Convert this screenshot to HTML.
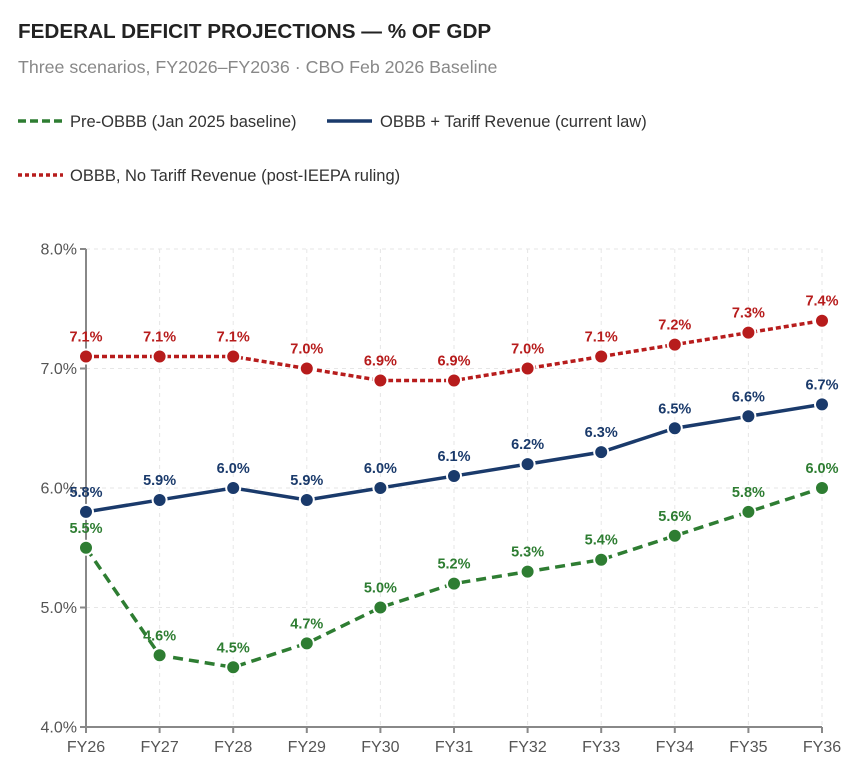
<!DOCTYPE html>
<html><head><meta charset="utf-8"><style>
body{margin:0;background:#fff;font-family:"Liberation Sans",Arial,sans-serif;}
#wrap{position:relative;width:865px;height:766px;}
</style></head><body>
<div id="wrap">
<svg id="chart" width="865" height="766" xmlns="http://www.w3.org/2000/svg">
<text x="18" y="38" font-size="20.7" font-weight="bold" fill="#222">FEDERAL DEFICIT PROJECTIONS — % OF GDP</text>
<text x="18" y="73" font-size="17.8" fill="#888">Three scenarios, FY2026–FY2036 · CBO Feb 2026 Baseline</text>
<g>
<line x1="18" y1="121" x2="63" y2="121" stroke="#2e7d32" stroke-width="3.5" stroke-dasharray="8,4"/>
<text x="70" y="127" font-size="16.5" fill="#333">Pre-OBBB (Jan 2025 baseline)</text></g>
<g>
<line x1="327" y1="121" x2="372" y2="121" stroke="#1a3a6b" stroke-width="3.5"/>
<text x="380" y="127" font-size="16.5" fill="#333">OBBB + Tariff Revenue (current law)</text></g>
<g>
<line x1="18" y1="175" x2="63" y2="175" stroke="#b71c1c" stroke-width="3.5" stroke-dasharray="4,3"/>
<text x="70" y="181" font-size="16.5" fill="#333">OBBB, No Tariff Revenue (post-IEEPA ruling)</text></g>
<g id="grid"></g><g id="axes"></g><g id="series"></g>
</svg></div>
<script>
const categories=["FY26","FY27","FY28","FY29","FY30","FY31","FY32","FY33","FY34","FY35","FY36"];
const preObbb=[5.5,4.6,4.5,4.7,5.0,5.2,5.3,5.4,5.6,5.8,6.0];
const obbbTariff=[5.8,5.9,6.0,5.9,6.0,6.1,6.2,6.3,6.5,6.6,6.7];
const obbbNoTariff=[7.1,7.1,7.1,7.0,6.9,6.9,7.0,7.1,7.2,7.3,7.4];
const yTicks=[4,5,6,7,8];
const yMin=4,yMax=8,plotTop=249,plotBottom=727,plotLeft=86,plotRight=822;
const NS="http://www.w3.org/2000/svg";
function xs(i){return plotLeft+(plotRight-plotLeft)*i/(categories.length-1);}
function ys(v){return plotBottom-(v-yMin)/(yMax-yMin)*(plotBottom-plotTop);}
function mk(tag,attrs,parent){const e=document.createElementNS(NS,tag);for(const k in attrs)e.setAttribute(k,attrs[k]);parent.appendChild(e);return e;}
const grid=document.getElementById('grid'),axes=document.getElementById('axes'),series=document.getElementById('series');
yTicks.forEach(t=>{
 const g=mk('line',{x1:plotLeft,x2:plotRight,y1:ys(t),y2:ys(t),stroke:'#e6e6e6','stroke-dasharray':'4,4'},grid);
 
 
 const tk=mk('line',{x1:plotLeft-6,x2:plotLeft,y1:ys(t),y2:ys(t),stroke:'#888','stroke-width':2},axes);
 
 
 const tx=mk('text',{x:plotLeft-9,y:ys(t)+5.5,'text-anchor':'end','font-size':16,fill:'#555'},axes);
 tx.textContent=t.toFixed(1)+'%';
 
 
});
categories.forEach((c,i)=>{
 if(i>0){const g=mk('line',{x1:xs(i),x2:xs(i),y1:plotTop,y2:plotBottom,stroke:'#e6e6e6','stroke-dasharray':'4,4'},grid);
 
 }
 const tk=mk('line',{x1:xs(i),x2:xs(i),y1:plotBottom,y2:plotBottom+6,stroke:'#888','stroke-width':2},axes);
 
 
 const tx=mk('text',{x:xs(i),y:plotBottom+25,'text-anchor':'middle','font-size':16,fill:'#555'},axes);
 tx.textContent=c;
 
 
});
const ya=mk('line',{x1:plotLeft,x2:plotLeft,y1:plotTop,y2:plotBottom,stroke:'#888','stroke-width':2},axes);


const xa=mk('line',{x1:plotLeft,x2:plotRight,y1:plotBottom,y2:plotBottom,stroke:'#888','stroke-width':2},axes);


function draw(vals,color,dash,name){
 const g=mk('g',{},series);
 
 
 const p=mk('polyline',{points:vals.map((v,i)=>xs(i)+','+ys(v)).join(' '),fill:'none',stroke:color,'stroke-width':3.5},g);
 if(dash)p.setAttribute('stroke-dasharray',dash);
 
 
 vals.forEach((v,i)=>{
  const c=mk('circle',{cx:xs(i),cy:ys(v),r:7,fill:color,stroke:'#fff','stroke-width':2},g);
  
  
  const t=mk('text',{x:xs(i),y:ys(v)-15,'text-anchor':'middle','font-size':14.5,'font-weight':'bold',fill:color},g);
  t.textContent=v.toFixed(1)+'%';
  
  
 });
}
draw(obbbNoTariff,'#b71c1c','5,3','obbb-no-tariff');
draw(obbbTariff,'#1a3a6b',null,'obbb-tariff');
draw(preObbb,'#2e7d32','10,6','pre-obbb');
</script>
</body></html>
